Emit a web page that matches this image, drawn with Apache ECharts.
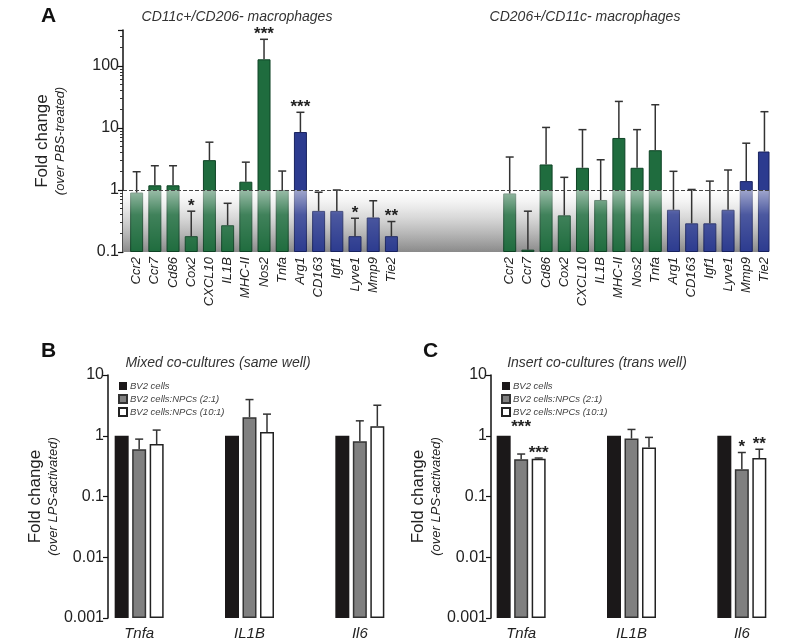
<!DOCTYPE html>
<html>
<head>
<meta charset="utf-8">
<script src="https://cdn.jsdelivr.net/npm/echarts@6/dist/echarts.min.js"></script>
<style>
html, body { margin: 0; padding: 0; background: #fff; }
#myChart { width: 800px; height: 644px; }
</style>
</head>
<body>
<div id="myChart"></div>
<script>
// panel A: genes and fold change (mean, top of error bar)
const genes = ['Ccr2', 'Ccr7', 'Cd86', 'Cox2', 'CXCL10', 'IL1B', 'MHC-II', 'Nos2', 'Tnfa', 'Arg1', 'CD163', 'Igf1', 'Lyve1', 'Mmp9', 'Tie2']
const geneKind = ['M1', 'M1', 'M1', 'M1', 'M1', 'M1', 'M1', 'M1', 'M1', 'M2', 'M2', 'M2', 'M2', 'M2', 'M2']
const cd11cMean = [0.91, 1.19, 1.19, 0.18, 3.03, 0.27, 1.36, 128, 1.0, 8.6, 0.46, 0.46, 0.18, 0.36, 0.18]
const cd11cErr = [1.97, 2.46, 2.46, 0.455, 5.9, 0.61, 2.81, 269, 2.02, 17.9, 0.92, 1.0, 0.35, 0.67, 0.31]
const cd11cSig = ['', '', '', '*', '', '', '', '***', '', '***', '', '', '*', '', '**']
const cd206Mean = [0.88, 0.109, 2.58, 0.39, 2.28, 0.69, 6.9, 2.28, 4.38, 0.48, 0.29, 0.29, 0.48, 1.39, 4.17]
const cd206Err = [3.4, 0.455, 10.2, 1.6, 9.4, 3.07, 26.8, 9.4, 23.7, 2.0, 1.02, 1.39, 2.1, 5.68, 18.3]
const cd206Sig = ['', '', '', '', '', '', '', '', '', '', '', '', '', '', '']

// panels B and C: cytokines, one row per culture condition
const cytokines = ['Tnfa', 'IL1B', 'Il6']
const conditions = ['BV2 cells', 'BV2 cells:NPCs (2:1)', 'BV2 cells:NPCs (10:1)']
const mixedMean = [[1, 1, 1], [0.60, 2.02, 0.81], [0.73, 1.15, 1.44]]
const mixedErr = [[null, null, null], [0.88, 3.94, 1.76], [1.24, 2.27, 3.18]]
const mixedSig = [['', '', ''], ['', '', ''], ['', '', '']]
const insertMean = [[1, 1, 1], [0.41, 0.90, 0.28], [0.42, 0.64, 0.43]]
const insertErr = [[null, null, null], [0.50, 1.27, 0.53], [0.43, 0.94, 0.60]]
const insertSig = [['', '', ''], ['***', '', '*'], ['***', '', '**']]
const insertSigAt = [[null, null, null], [1.15, null, null], [null, null, null]]

const FONT = "'Liberation Sans', Arial, Helvetica, sans-serif"
const green = '#1f6c3e'
const blue = '#2c3b8f'
const condColor = ['#1b1819', '#808080', '#ffffff']
const condBorder = ['#1b1819', '#333333', '#222222']

// panel A uses half-width slots so the two groups can sit apart
const slotCount = 71
const slots = Array(slotCount).fill('')
const barsA = Array(slotCount).fill('-')
const errA = []
genes.forEach((g, i) => {
  const s1 = 1 + 2 * i
  const s2 = 42 + 2 * i
  const col = geneKind[i] === 'M1' ? green : blue
  const bcol = geneKind[i] === 'M1' ? '#0e4325' : '#18225e'
  slots[s1] = g
  slots[s2] = g
  barsA[s1] = { value: cd11cMean[i], itemStyle: { color: col, borderColor: bcol } }
  barsA[s2] = { value: cd206Mean[i], itemStyle: { color: col, borderColor: bcol } }
  errA.push({ value: [s1, cd11cMean[i], cd11cErr[i]], sig: cd11cSig[i] })
  errA.push({ value: [s2, cd206Mean[i], cd206Err[i]], sig: cd206Sig[i] })
})

function isDecade (v) {
  const l = Math.log10(v)
  return Math.abs(l - Math.round(l)) < 1e-6
}

function errItem (x, top, base, sig, sigY) {
  const children = [
    { type: 'line', shape: { x1: x, y1: base, x2: x, y2: top }, style: { stroke: '#333', lineWidth: 1.5 } },
    { type: 'line', shape: { x1: x - 4, y1: top, x2: x + 4, y2: top }, style: { stroke: '#333', lineWidth: 1.5 } }
  ]
  if (sig) {
    children.push({
      type: 'text',
      style: { text: sig, x: x, y: sigY, align: 'center', verticalAlign: 'middle', font: 'bold 17px ' + FONT, fill: '#222' }
    })
  }
  return { type: 'group', children: children }
}

function band (stops) {
  return function (params, api) {
    const cs = params.coordSys
    const top = api.coord([0, 1])[1]
    const bottom = api.coord([0, 0.1])[1]
    return {
      type: 'rect',
      shape: { x: cs.x, y: top, width: cs.width, height: bottom - top },
      style: { fill: new echarts.graphic.LinearGradient(0, 0, 0, 1, stops) }
    }
  }
}

function logAxis (gridIndex, min, max, name, offset, gap) {
  return {
    type: 'log',
    logBase: 10,
    gridIndex: gridIndex,
    min: min,
    max: max,
    startValue: min,
    offset: offset,
    name: name,
    nameLocation: 'middle',
    nameRotate: 90,
    nameGap: gap,
    nameTextStyle: {
      rich: {
        a: { fontFamily: FONT, fontSize: 17, color: '#222', lineHeight: 20 },
        b: { fontFamily: FONT, fontSize: 13, fontStyle: 'italic', color: '#222', lineHeight: 16 }
      }
    },
    axisLine: { show: true, lineStyle: { color: '#111', width: 1.5 } },
    axisTick: { show: true, length: 5, lineStyle: { color: '#111', width: 1.2 } },
    splitLine: { show: false },
    axisLabel: {
      fontFamily: FONT,
      fontSize: 16,
      color: '#222',
      margin: 4,
      formatter: function (v) { return isDecade(v) ? String(+v.toPrecision(3)) : '' }
    }
  }
}

function catAxis (gridIndex) {
  return {
    type: 'category',
    gridIndex: gridIndex,
    data: cytokines,
    axisLine: { show: false },
    axisTick: { show: false },
    axisLabel: { fontFamily: FONT, fontSize: 15, fontStyle: 'italic', color: '#222', margin: 8 }
  }
}

function cytoSeries (gridIndex, means, errs, sigs, sigAt) {
  const out = []
  conditions.forEach((c, k) => {
    out.push({
      name: c,
      type: 'bar',
      xAxisIndex: gridIndex,
      yAxisIndex: gridIndex,
      barWidth: 14,
      barGap: '25%',
      z: 2,
      itemStyle: { color: condColor[k], borderColor: condBorder[k], borderWidth: k === 0 ? 0 : 1.5 },
      data: means[k]
    })
  })
  const errData = []
  conditions.forEach((c, k) => {
    cytokines.forEach((t, j) => {
      if (errs[k][j] !== null) {
        errData.push({ value: [j, means[k][j], errs[k][j]], shift: (k - 1) * 17.5, sig: sigs[k][j], sigAt: sigAt ? sigAt[k][j] : null })
      }
    })
  })
  out.push({
    type: 'custom',
    xAxisIndex: gridIndex,
    yAxisIndex: gridIndex,
    z: 4,
    silent: true,
    data: errData,
    renderItem: function (params, api) {
      const d = errData[params.dataIndex]
      const base = api.coord([api.value(0), api.value(1)])
      const top = api.coord([api.value(0), api.value(2)])
      const x = base[0] + d.shift
      const anchor = d.sigAt ? api.coord([api.value(0), d.sigAt])[1] : top[1]
      return errItem(x, top[1], base[1], d.sig, anchor - 5)
    }
  })
  return out
}

let myChart = echarts.init(document.getElementById('myChart'))

const titleStyle = { fontFamily: FONT, fontSize: 14, fontStyle: 'italic', fontWeight: 'normal', color: '#333' }
const letterStyle = { fontFamily: FONT, fontSize: 21, fontWeight: 'bold', color: '#111' }

myChart.setOption({
  backgroundColor: '#fff',
  animation: false,
  title: [
    { text: 'A', left: 36, top: 1, textStyle: letterStyle },
    { text: 'CD11c+/CD206- macrophages', left: 232, top: 5, textAlign: 'center', textStyle: titleStyle },
    { text: 'CD206+/CD11c- macrophages', left: 580, top: 5, textAlign: 'center', textStyle: titleStyle },
    { text: 'B', left: 36, top: 336, textStyle: letterStyle },
    { text: 'Mixed co-cultures (same well)', left: 213, top: 351, textAlign: 'center', textStyle: titleStyle },
    { text: 'C', left: 418, top: 336, textStyle: letterStyle },
    { text: 'Insert co-cultures (trans well)', left: 592, top: 351, textAlign: 'center', textStyle: titleStyle }
  ],
  legend: [
    {
      data: conditions, orient: 'vertical', left: 113, top: 376, itemWidth: 8, itemHeight: 8, itemGap: 3,
      icon: 'rect', selectedMode: false,
      textStyle: { fontFamily: FONT, fontSize: 9.5, fontStyle: 'italic', color: '#444', padding: [0, 0, 0, -2] }
    },
    {
      data: conditions, orient: 'vertical', left: 496, top: 376, itemWidth: 8, itemHeight: 8, itemGap: 3,
      icon: 'rect', selectedMode: false,
      textStyle: { fontFamily: FONT, fontSize: 9.5, fontStyle: 'italic', color: '#444', padding: [0, 0, 0, -2] }
    }
  ],
  grid: [
    { left: 123, top: 30, width: 646, height: 222 },
    { left: 84, top: 375, width: 331, height: 243 },
    { left: 466, top: 375, width: 331, height: 243 }
  ],
  xAxis: [
    {
      type: 'category',
      gridIndex: 0,
      data: slots,
      axisLine: { show: false },
      axisTick: { show: false },
      axisLabel: { interval: 0, rotate: 90, fontFamily: FONT, fontSize: 13, fontStyle: 'italic', color: '#222', margin: 5 }
    },
    catAxis(1),
    catAxis(2)
  ],
  yAxis: [
    Object.assign(logAxis(0, 0.1, 380, '{a|Fold change}\n{b|(over PBS-treated)}', 0, 55), {
      minorTick: { show: true, splitNumber: 9, length: 3, lineStyle: { color: '#333' } }
    }),
    logAxis(1, 0.001, 10, '{a|Fold change}\n{b|(over LPS-activated)}', -24, 44),
    logAxis(2, 0.001, 10, '{a|Fold change}\n{b|(over LPS-activated)}', -25, 44)
  ],
  series: [
    {
      type: 'custom',
      xAxisIndex: 0,
      yAxisIndex: 0,
      z: 1,
      silent: true,
      data: [[0, 1]],
      renderItem: band([{ offset: 0, color: '#ffffff' }, { offset: 0.45, color: '#d2d2d2' }, { offset: 1, color: '#8a8a8a' }])
    },
    {
      type: 'bar',
      xAxisIndex: 0,
      yAxisIndex: 0,
      barWidth: 13,
      z: 2,
      itemStyle: { borderWidth: 1 },
      data: barsA,
      markLine: {
        silent: true,
        symbol: ['none', 'none'],
        label: { show: false },
        lineStyle: { color: '#444', type: 'dashed', width: 1 },
        data: [{ yAxis: 1 }]
      }
    },
    {
      type: 'custom',
      xAxisIndex: 0,
      yAxisIndex: 0,
      z: 3,
      silent: true,
      data: [[0, 1]],
      renderItem: band([{ offset: 0, color: 'rgba(255,255,255,0.55)' }, { offset: 0.4, color: 'rgba(255,255,255,0.15)' }, { offset: 1, color: 'rgba(255,255,255,0)' }])
    },
    {
      type: 'custom',
      xAxisIndex: 0,
      yAxisIndex: 0,
      z: 4,
      silent: true,
      data: errA,
      renderItem: function (params, api) {
        const d = errA[params.dataIndex]
        const base = api.coord([api.value(0), api.value(1)])
        const top = api.coord([api.value(0), api.value(2)])
        return errItem(base[0], top[1], base[1], d.sig, top[1] - 5)
      }
    }
  ].concat(cytoSeries(1, mixedMean, mixedErr, mixedSig, null), cytoSeries(2, insertMean, insertErr, insertSig, insertSigAt))
})
</script>
</body>
</html>
